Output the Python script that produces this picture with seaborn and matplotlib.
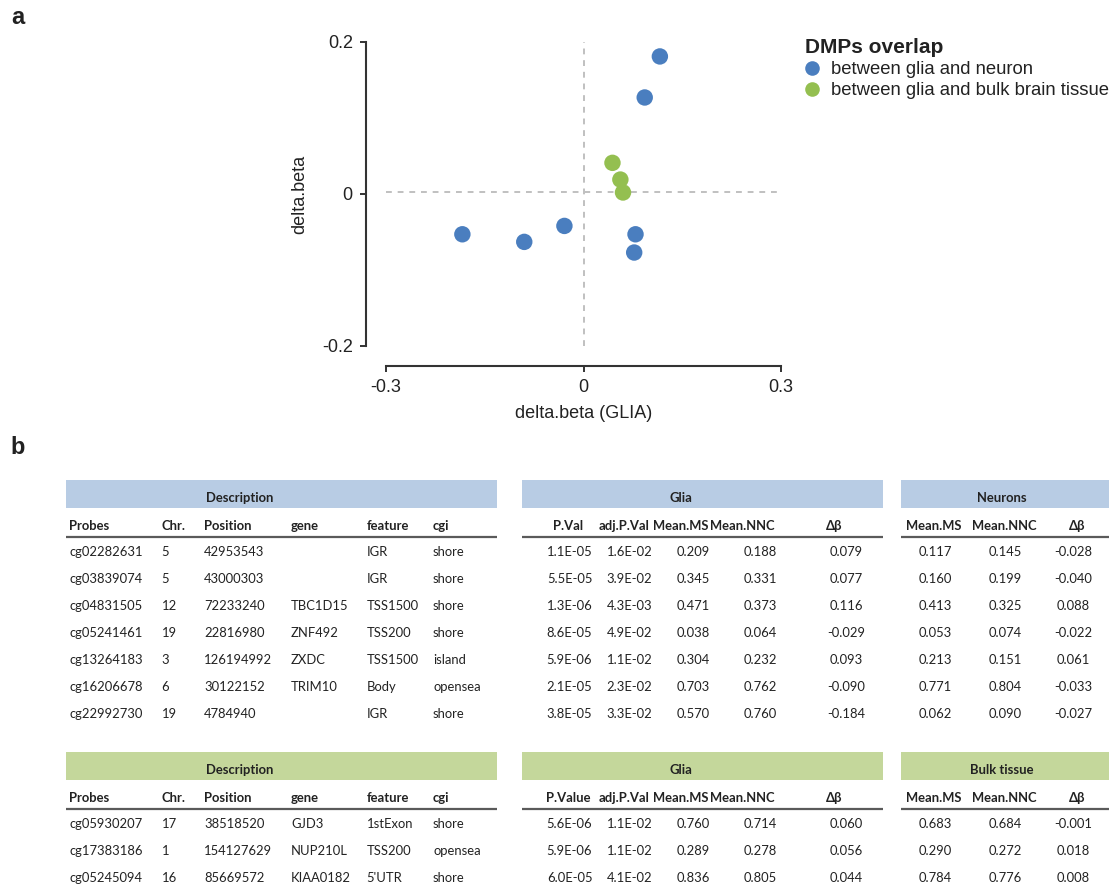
import numpy as np
import pandas as pd
import matplotlib
matplotlib.use("Agg")
import matplotlib.pyplot as plt
from matplotlib.patches import Rectangle
from matplotlib.lines import Line2D
import seaborn as sns

# ---------------- data ----------------
# Table 1: DMPs overlap between glia and neuron
neu_probes = ["cg02282631", "cg03839074", "cg04831505", "cg05241461", "cg13264183", "cg16206678", "cg22992730"]
neu_chr = ["5", "5", "12", "19", "3", "6", "19"]
neu_position = ["42953543", "43000303", "72233240", "22816980", "126194992", "30122152", "4784940"]
neu_gene = ["", "", "TBC1D15", "ZNF492", "ZXDC", "TRIM10", ""]
neu_feature = ["IGR", "IGR", "TSS1500", "TSS200", "TSS1500", "Body", "IGR"]
neu_cgi = ["shore", "shore", "shore", "shore", "island", "opensea", "shore"]
neu_glia_pval = [1.1e-05, 5.5e-05, 1.3e-06, 8.6e-05, 5.9e-06, 2.1e-05, 3.8e-05]
neu_glia_adjp = [1.6e-02, 3.9e-02, 4.3e-03, 4.9e-02, 1.1e-02, 2.3e-02, 3.3e-02]
neu_glia_ms = [0.209, 0.345, 0.471, 0.038, 0.304, 0.703, 0.570]
neu_glia_nnc = [0.188, 0.331, 0.373, 0.064, 0.232, 0.762, 0.760]
neu_glia_db = [0.079, 0.077, 0.116, -0.029, 0.093, -0.090, -0.184]
neu_ms = [0.117, 0.160, 0.413, 0.053, 0.213, 0.771, 0.062]
neu_nnc = [0.145, 0.199, 0.325, 0.074, 0.151, 0.804, 0.090]
neu_db = [-0.028, -0.040, 0.088, -0.022, 0.061, -0.033, -0.027]

# Table 2: DMPs overlap between glia and bulk brain tissue
blk_probes = ["cg05930207", "cg17383186", "cg05245094"]
blk_chr = ["17", "1", "16"]
blk_position = ["38518520", "154127629", "85669572"]
blk_gene = ["GJD3", "NUP210L", "KIAA0182"]
blk_feature = ["1stExon", "TSS200", "5'UTR"]
blk_cgi = ["shore", "opensea", "shore"]
blk_glia_pval = [5.6e-06, 5.9e-06, 6.0e-05]
blk_glia_adjp = [1.1e-02, 1.1e-02, 4.1e-02]
blk_glia_ms = [0.760, 0.289, 0.836]
blk_glia_nnc = [0.714, 0.278, 0.805]
blk_glia_db = [0.060, 0.056, 0.044]
blk_ms = [0.683, 0.290, 0.784]
blk_nnc = [0.684, 0.272, 0.776]
blk_db = [-0.001, 0.018, 0.008]

# scatter y values (delta.beta in the compared tissue),
# in the same row order as the tables above
neu_scatter_y = [-0.053, -0.077, 0.181, -0.042, 0.127, -0.063, -0.053]
blk_scatter_y = [0.002, 0.019, 0.041]

group_labels = ["between glia and neuron", "between glia and bulk brain tissue"]
group_colors = ["#4a7ebf", "#94bf50"]

# ---------------- style ----------------
sns.set_style("ticks")
plt.rcParams["font.family"] = ["Liberation Sans", "DejaVu Sans"]
TXT = "#222222"
AXC = "#333333"

W, H = 1117, 889
fig = plt.figure(figsize=(W / 100, H / 100), dpi=100)

def fx(px):
    return px / W

def fy(py):
    return 1 - py / H

# ---------------- panel a: scatter ----------------
ax = fig.add_axes([fx(386), fy(346), (781 - 386) / W, (346 - 42) / H])
df = pd.DataFrame({
    "x": neu_glia_db + blk_glia_db,
    "y": neu_scatter_y + blk_scatter_y,
    "group": [group_labels[0]] * len(neu_glia_db) + [group_labels[1]] * len(blk_glia_db),
})
ax.axvline(0, color="#c0c0c0", lw=1.4, ls=(0, (3, 3)), zorder=1)
ax.axhline(0.003, color="#c0c0c0", lw=1.4, ls=(0, (3, 3)), zorder=1)
sns.scatterplot(data=df, x="x", y="y", hue="group", hue_order=group_labels,
                palette=dict(zip(group_labels, group_colors)), s=140,
                edgecolor="none", linewidth=0, legend=False, ax=ax, zorder=3)
ax.set_xlim(-0.3, 0.3)
ax.set_ylim(-0.2, 0.2)
ax.set_xticks([-0.3, 0, 0.3])
ax.set_xticklabels(["-0.3", "0", "0.3"])
ax.set_yticks([-0.2, 0, 0.2])
ax.set_yticklabels(["-0.2", "0", "0.2"])
sns.despine(ax=ax, offset=14.4, trim=True)
for sp in ["left", "bottom"]:
    ax.spines[sp].set_color(AXC)
    ax.spines[sp].set_linewidth(1.5)
ax.tick_params(axis="both", length=4, width=1.4, color=AXC, pad=5.5,
               labelsize=13, labelcolor=TXT)
ax.set_xlabel("delta.beta (GLIA)", fontsize=13, color=TXT)
ax.set_ylabel("delta.beta", fontsize=13, color=TXT)
ax.xaxis.label.set_va("center")
ax.yaxis.label.set_va("center")
ax.xaxis.set_label_coords(0.5, (346 - 413) / 304)
ax.yaxis.set_label_coords((300 - 386) / 395, 0.5)

handles = [Line2D([], [], marker="o", ls="", markersize=10.5, markerfacecolor=c,
                  markeredgecolor="none") for c in group_colors]
leg = ax.legend(handles, group_labels, title="DMPs overlap", loc="upper left",
                bbox_to_anchor=(fx(805), fy(38)), bbox_transform=fig.transFigure,
                frameon=False, fontsize=13.3, borderpad=0, borderaxespad=0,
                handlelength=0.75, handletextpad=0.65, labelspacing=0.22,
                alignment="left",
                title_fontproperties={"weight": "bold", "size": 15})
for t in leg.get_texts():
    t.set_color(TXT)
leg.get_title().set_color(TXT)

# panel labels
fig.text(fx(18), fy(18), "a", fontsize=17, fontweight="bold", ha="center", va="center", color=TXT)
fig.text(fx(18), fy(448), "b", fontsize=17, fontweight="bold", ha="center", va="center", color=TXT)

# ---------------- panel b: tables ----------------
tax = fig.add_axes([0, 0, 1, 1], zorder=-1)
tax.set_xlim(0, W)
tax.set_ylim(H, 0)
tax.axis("off")

TFONT = ["Lato", "DejaVu Sans"]
TSIZE = 9.4

desc_x = [69, 161.7, 204, 291, 366.7, 433]
glia_hdr_x = [568.5, 624.5, 681, 742.5, 834]
glia_val_x = [569.5, 629.5, 693, 760, 846]
cmp_hdr_x = [934, 1004.5, 1077.5]
cmp_val_x = [935, 1005, 1073]
blocks = [(66, 496.5), (522, 883), (901, 1109)]

def draw_table(top, color, glia_cols, cmp_name, desc_cols, glia_vals, cmp_vals, step):
    # header bars
    for (x0, x1) in blocks:
        tax.add_patch(Rectangle((x0, top), x1 - x0, 28, facecolor=color, edgecolor="none"))
    ty = top + 18
    tax.text(240, ty, "Description", ha="center", va="center", fontsize=TSIZE,
             fontweight="bold", family=TFONT, color=TXT)
    tax.text(681, ty, "Glia", ha="center", va="center", fontsize=TSIZE,
             fontweight="bold", family=TFONT, color=TXT)
    tax.text(1002, ty, cmp_name, ha="center", va="center", fontsize=TSIZE,
             fontweight="bold", family=TFONT, color=TXT)
    hy = top + 45.7
    for lab, x in zip(["Probes", "Chr.", "Position", "gene", "feature", "cgi"], desc_x):
        tax.text(x, hy, lab, ha="left", va="center", fontsize=TSIZE, fontweight="bold",
                 family=TFONT, color=TXT)
    for lab, x in zip(glia_cols, glia_hdr_x):
        tax.text(x, hy, lab, ha="center", va="center", fontsize=TSIZE, fontweight="bold",
                 family=TFONT, color=TXT)
    for lab, x in zip(["Mean.MS", "Mean.NNC", "Δβ"], cmp_hdr_x):
        tax.text(x, hy, lab, ha="center", va="center", fontsize=TSIZE, fontweight="bold",
                 family=TFONT, color=TXT)
    ly = top + 56.5
    for (x0, x1) in blocks:
        tax.plot([x0, x1], [ly, ly], color="#5a5a5a", lw=1.6, solid_capstyle="butt")
    n = len(desc_cols[0])
    for i in range(n):
        ry = top + 72.3 + i * step
        for col, x in zip(desc_cols, desc_x):
            tax.text(x, ry, col[i], ha="left", va="center", fontsize=TSIZE,
                     family=TFONT, color=TXT)
        pv, ap, ms, nnc, db = (c[i] for c in glia_vals)
        gtxt = [f"{pv:.1E}", f"{ap:.1E}", f"{ms:.3f}", f"{nnc:.3f}", f"{db:.3f}"]
        for s, x in zip(gtxt, glia_val_x):
            tax.text(x, ry, s, ha="center", va="center", fontsize=TSIZE,
                     family=TFONT, color=TXT)
        ctxt = [f"{c[i]:.3f}" for c in cmp_vals]
        for s, x in zip(ctxt, cmp_val_x):
            tax.text(x, ry, s, ha="center", va="center", fontsize=TSIZE,
                     family=TFONT, color=TXT)

draw_table(480, "#b8cce4", ["P.Val", "adj.P.Val", "Mean.MS", "Mean.NNC", "Δβ"], "Neurons",
           [neu_probes, neu_chr, neu_position, neu_gene, neu_feature, neu_cgi],
           [neu_glia_pval, neu_glia_adjp, neu_glia_ms, neu_glia_nnc, neu_glia_db],
           [neu_ms, neu_nnc, neu_db], 26.95)
draw_table(752, "#c4d79b", ["P.Value", "adj.P.Val", "Mean.MS", "Mean.NNC", "Δβ"], "Bulk tissue",
           [blk_probes, blk_chr, blk_position, blk_gene, blk_feature, blk_cgi],
           [blk_glia_pval, blk_glia_adjp, blk_glia_ms, blk_glia_nnc, blk_glia_db],
           [blk_ms, blk_nnc, blk_db], 26.9)

fig.savefig("out.png", dpi=100)
